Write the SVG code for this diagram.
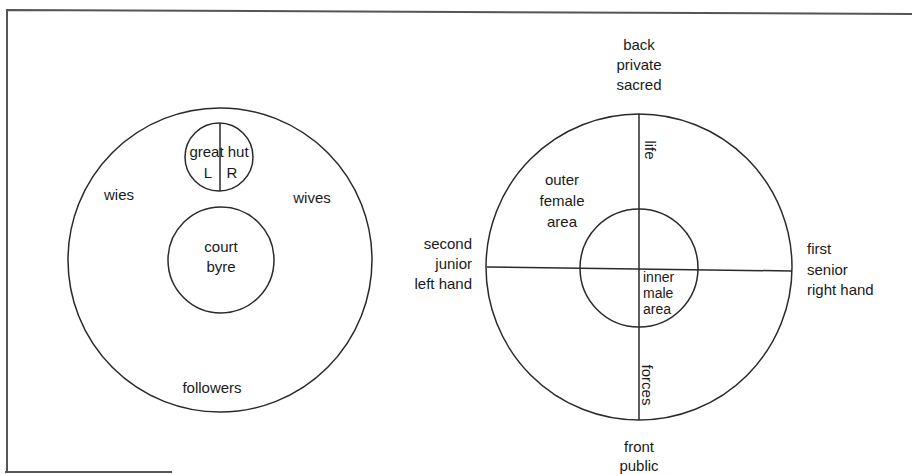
<svg xmlns="http://www.w3.org/2000/svg" width="912" height="474" viewBox="0 0 912 474">
<style>
.ln{fill:none;stroke:#2a2a2a;stroke-width:1.5}
.bd{fill:none;stroke:#555;stroke-width:2}
text{font-family:"Liberation Sans",Arial,sans-serif;font-size:15px;fill:#1a1a1a}
.m{text-anchor:middle}
.e{text-anchor:end}
.s{font-size:14px}
</style>
<rect width="912" height="474" fill="#fff"/>
<g id="border">
<path class="bd" d="M7,472 L7,10 L912,14"/>
<path class="bd" d="M5,472 L172,472"/>
</g>
<g id="left-diagram">
<g id="outer-left"><circle class="ln" cx="220" cy="260" r="152"/></g>
<g id="great-hut">
<circle class="ln" cx="219" cy="157" r="34"/>
<line class="ln" x1="220" y1="123" x2="220" y2="191"/>
<text class="m" x="219" y="157">great hut</text>
<text class="m" x="208" y="178">L</text>
<text class="m" x="232" y="178">R</text>
</g>
<g id="court"><circle class="ln" cx="221" cy="260" r="53"/>
<text class="m" x="221" y="252">court</text>
<text class="m" x="221" y="272">byre</text></g>
<text class="m" x="119" y="200">wies</text>
<text class="m" x="312" y="203">wives</text>
<text class="m" x="212" y="393">followers</text>
</g>
<g id="right-diagram">
<g id="outer-right"><circle class="ln" cx="639" cy="267" r="153"/>
<text class="m" x="562" y="185">outer</text>
<text class="m" x="562" y="206">female</text>
<text class="m" x="562" y="227">area</text></g>
<g id="inner-right"><circle class="ln" cx="639" cy="268" r="59"/>
<text class="s" x="643" y="282">inner</text>
<text class="s" x="643" y="298">male</text>
<text class="s" x="643" y="314">area</text></g>
<g id="connectors">
<line class="ln" x1="639" y1="114" x2="639" y2="420"/>
<line class="ln" x1="487" y1="267" x2="792" y2="271"/>
</g>
<text transform="translate(645,150) rotate(90)" class="m">life</text>
<text transform="translate(642,385) rotate(90)" class="m">forces</text>
<text class="m" x="639" y="50">back</text>
<text class="m" x="639" y="70">private</text>
<text class="m" x="639" y="90">sacred</text>
<text class="e" x="472" y="249">second</text>
<text class="e" x="472" y="269">junior</text>
<text class="e" x="472" y="289">left hand</text>
<text x="807" y="254">first</text>
<text x="807" y="275">senior</text>
<text x="807" y="295">right hand</text>
<text class="m" x="639" y="452">front</text>
<text class="m" x="639" y="471">public</text>
</g>
</svg>
